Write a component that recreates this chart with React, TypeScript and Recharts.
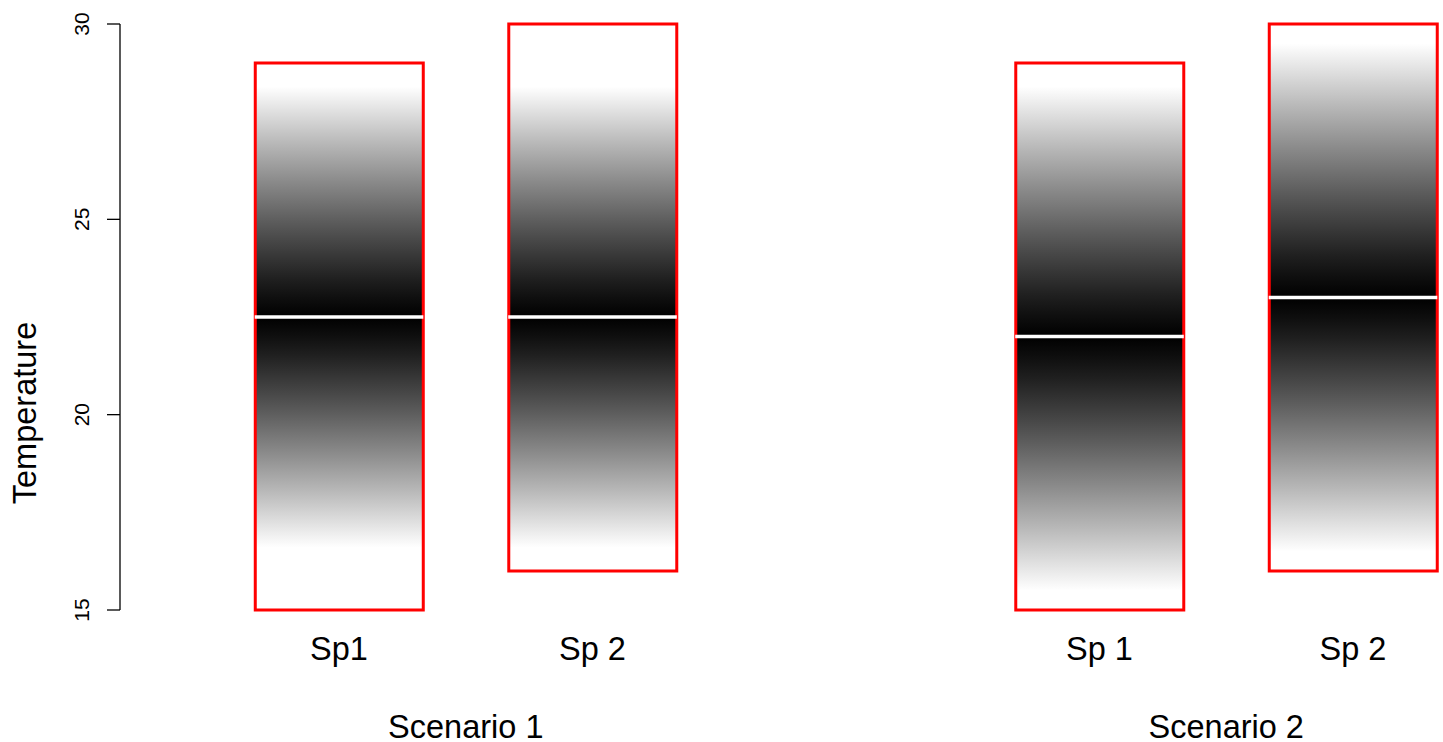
import { ComposedChart, Bar, Cell, XAxis, YAxis, ReferenceLine } from "recharts";

// box positions on the x axis (gap at 3 between the two scenarios)
const positions = [1, 2, 4, 5];
const speciesLabels = ["Sp1", "Sp 2", "Sp 1", "Sp 2"];
const scenarioPositions = [1.5, 4.5];
const scenarioLabels = ["Scenario 1", "Scenario 2"];

// temperature range of each box
const lows = [15, 16, 15, 16];
const highs = [29, 30, 29, 30];
const medians = [22.5, 22.5, 22, 23];
// where the shading fades to white
const fadeLows = [16.6, 16.6, 15.5, 16.5];
const fadeHighs = [28.4, 28.4, 28.4, 29.5];

const yTicks = [15, 20, 25, 30];

const data = positions.map((p, i) => ({
  pos: p,
  range: [lows[i], highs[i]],
}));

const HALF = 0.3325;
const FONT = "Liberation Sans, Arial, Helvetica, sans-serif";

function grey(t: number) {
  const v = Math.round(255 * Math.pow(Math.min(1, Math.max(0, t)), 1.15));
  return `rgb(${v},${v},${v})`;
}

function stopsFor(i: number) {
  const lo = lows[i];
  const hi = highs[i];
  const off = (v: number) => (hi - v) / (hi - lo);
  const out: { o: number; c: string }[] = [];
  out.push({ o: 0, c: "#fff" });
  const n = 12;
  for (let k = n; k >= 0; k--) {
    const t = k / n;
    const v = medians[i] + (fadeHighs[i] - medians[i]) * t;
    out.push({ o: off(v), c: grey(t) });
  }
  for (let k = 1; k <= n; k++) {
    const t = k / n;
    const v = medians[i] - (medians[i] - fadeLows[i]) * t;
    out.push({ o: off(v), c: grey(t) });
  }
  out.push({ o: 1, c: "#fff" });
  return out;
}

const YTick = (props: any) => {
  const { x, y, payload } = props;
  return (
    <text
      x={x}
      y={y}
      transform={`rotate(-90, ${x}, ${y})`}
      textAnchor="middle"
      fontSize={21}
      fontFamily={FONT}
      fill="#000"
    >
      {payload.value}
    </text>
  );
};

const SpTick = (props: any) => {
  const { x, y, payload } = props;
  const idx = positions.indexOf(payload.value);
  return (
    <text x={x} y={y + 50} textAnchor="middle" fontSize={32.5} fontFamily={FONT} fill="#000">
      {speciesLabels[idx]}
    </text>
  );
};

const ScenTick = (props: any) => {
  const { x, y, payload } = props;
  const idx = scenarioPositions.indexOf(payload.value);
  return (
    <text x={x} y={y + 58} textAnchor="middle" fontSize={32.5} fontFamily={FONT} fill="#000">
      {scenarioLabels[idx]}
    </text>
  );
};

export default function App() {
  return (
    <div style={{ position: "absolute", left: 0, top: 0, background: "#fff" }}>
      <ComposedChart
        width={1443}
        height={742}
        data={data}
        margin={{ top: 24, right: 0, bottom: 0, left: 0 }}
      >
        <defs>
          {positions.map((_, i) => (
            <linearGradient key={i} id={`dens${i}`} x1="0" y1="0" x2="0" y2="1">
              {stopsFor(i).map((s, k) => (
                <stop key={k} offset={s.o} stopColor={s.c} />
              ))}
            </linearGradient>
          ))}
        </defs>
        <XAxis
          dataKey="pos"
          type="number"
          domain={[0.136, 5.355]}
          ticks={positions}
          axisLine={false}
          tickLine={false}
          tickSize={0}
          tickMargin={0}
          height={70}
          tick={<SpTick />}
          interval={0}
        />
        <XAxis
          xAxisId="scen"
          dataKey="pos"
          type="number"
          domain={[0.136, 5.355]}
          ticks={scenarioPositions}
          axisLine={false}
          tickLine={false}
          tickSize={0}
          tickMargin={0}
          height={62}
          tick={<ScenTick />}
          interval={0}
        />
        <YAxis
          type="number"
          domain={[15, 30]}
          ticks={yTicks}
          width={120}
          tickSize={13}
          tickMargin={18}
          axisLine={{ stroke: "#000", strokeWidth: 1.3 }}
          tickLine={{ stroke: "#000", strokeWidth: 1.3 }}
          tick={<YTick />}
          interval={0}
          label={() => (
            <text
              x={36}
              y={413}
              transform="rotate(-90, 36, 413)"
              textAnchor="middle"
              fontSize={32.5}
              fontFamily={FONT}
              fill="#000"
            >
              Temperature
            </text>
          )}
        />
        <Bar dataKey="range" barSize={168} isAnimationActive={false} stroke="#ff0000" strokeWidth={3}>
          {data.map((_, i) => (
            <Cell key={i} fill={`url(#dens${i})`} />
          ))}
        </Bar>
        {positions.map((p, i) => (
          <ReferenceLine
            key={i}
            segment={[
              { x: p - HALF, y: medians[i] },
              { x: p + HALF, y: medians[i] },
            ]}
            stroke="#fff"
            strokeWidth={3.5}
          />
        ))}
      </ComposedChart>
    </div>
  );
}
